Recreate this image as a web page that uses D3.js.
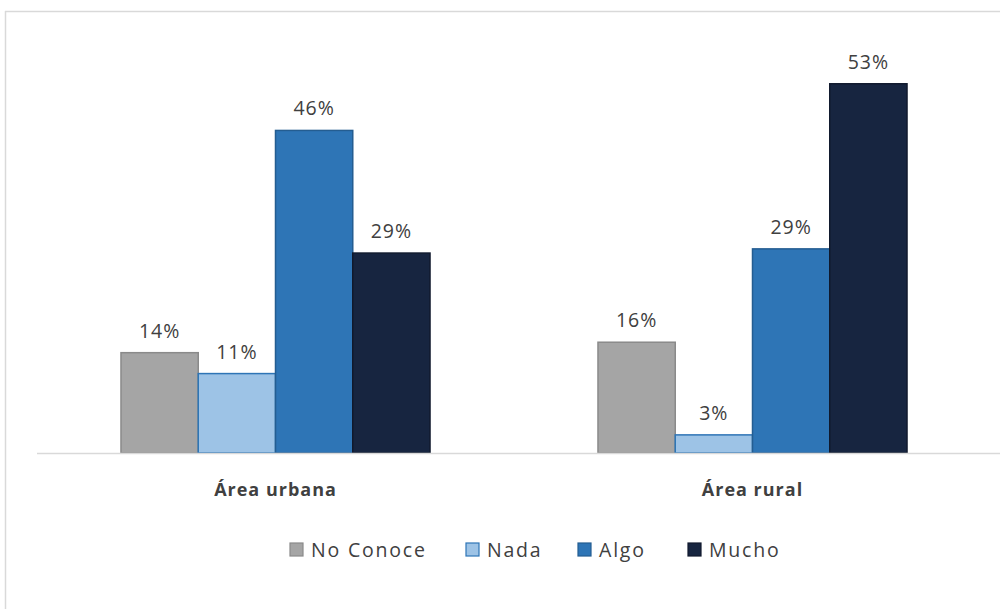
<!DOCTYPE html>
<html><head><meta charset="utf-8">
<script src="https://cdn.jsdelivr.net/npm/d3@7"></script>
<style>body{margin:0;background:#fff;}svg{display:block;}</style>
</head><body>
<script>
const categories = ["Área urbana", "Área rural"];
const seriesNames = ["No Conoce", "Nada", "Algo", "Mucho"];
const noConoce = [14.4, 15.9];
const nada = [11.4, 2.6];
const algo = [46.3, 29.3];
const mucho = [28.7, 53.0];
const seriesValues = [noConoce, nada, algo, mucho];
const fills = ["#a5a5a5", "#9dc3e6", "#2e75b6", "#172540"];
const strokes = ["#8a8a8a", "#2e75b6", "#245d91", "#111a2e"];

const W = 1000, H = 609;
const svg = d3.select("body").append("svg").attr("width", W).attr("height", H);
// frame
svg.append("line").attr("x1",5).attr("x2",W).attr("y1",11.5).attr("y2",11.5).attr("stroke","#d9d9d9").attr("stroke-width",1.5);
svg.append("line").attr("x1",5.5).attr("x2",5.5).attr("y1",11).attr("y2",H).attr("stroke","#d9d9d9").attr("stroke-width",1.5);

const x0 = d3.scaleBand().domain(categories).range([37, 991]).paddingInner(0).paddingOuter(0);
const x1 = d3.scaleBand().domain(seriesNames).range([0, x0.bandwidth()]).paddingInner(0).paddingOuter(1.087);
const y = d3.scaleLinear().domain([0, 60]).range([453, 35]);

const font = "Open Sans, sans-serif";
const g = svg.append("g");
categories.forEach((c, ci) => {
  seriesNames.forEach((s, si) => {
    const v = seriesValues[si][ci];
    const bx = x0(c) + x1(s);
    g.append("rect").attr("x", bx).attr("y", y(v)).attr("width", x1.bandwidth()).attr("height", y(0) - y(v))
      .attr("fill", fills[si]).attr("stroke", strokes[si]).attr("stroke-width", 1.5);
    g.append("text").attr("x", bx + x1.bandwidth()/2).attr("y", y(v) - 15)
      .attr("text-anchor","middle").attr("font-family",font).attr("font-size",19.5)
      .attr("letter-spacing","1px")
      .attr("fill","#404040").text(Math.round(v) + "%");
  });
});
// axis baseline
svg.append("line").attr("x1",37).attr("x2",W).attr("y1",453.5).attr("y2",453.5).attr("stroke","#d9d9d9").attr("stroke-width",1.5);

const xAxis = svg.append("g").attr("transform","translate(0,453)").call(d3.axisBottom(x0).tickSize(0).tickPadding(0));
xAxis.select(".domain").remove();
xAxis.selectAll("text").attr("dy", null).attr("y", 43).attr("font-family",font)
  .attr("font-size",18).attr("font-weight","bold").attr("letter-spacing","1px").attr("fill","#404040");

// legend
const legendX = [290, 466, 578, 688];
const lg = svg.append("g");
seriesNames.forEach((s, i) => {
  lg.append("rect").attr("x", legendX[i]).attr("y", 543).attr("width", 13).attr("height", 13)
    .attr("fill", fills[i]).attr("stroke", strokes[i]).attr("stroke-width", 1.2);
  lg.append("text").attr("x", legendX[i] + 21).attr("y", 557).attr("font-family",font)
    .attr("font-size",19.5).attr("letter-spacing","1.8px").attr("fill","#404040").text(s);
});
</script>
</body></html>
